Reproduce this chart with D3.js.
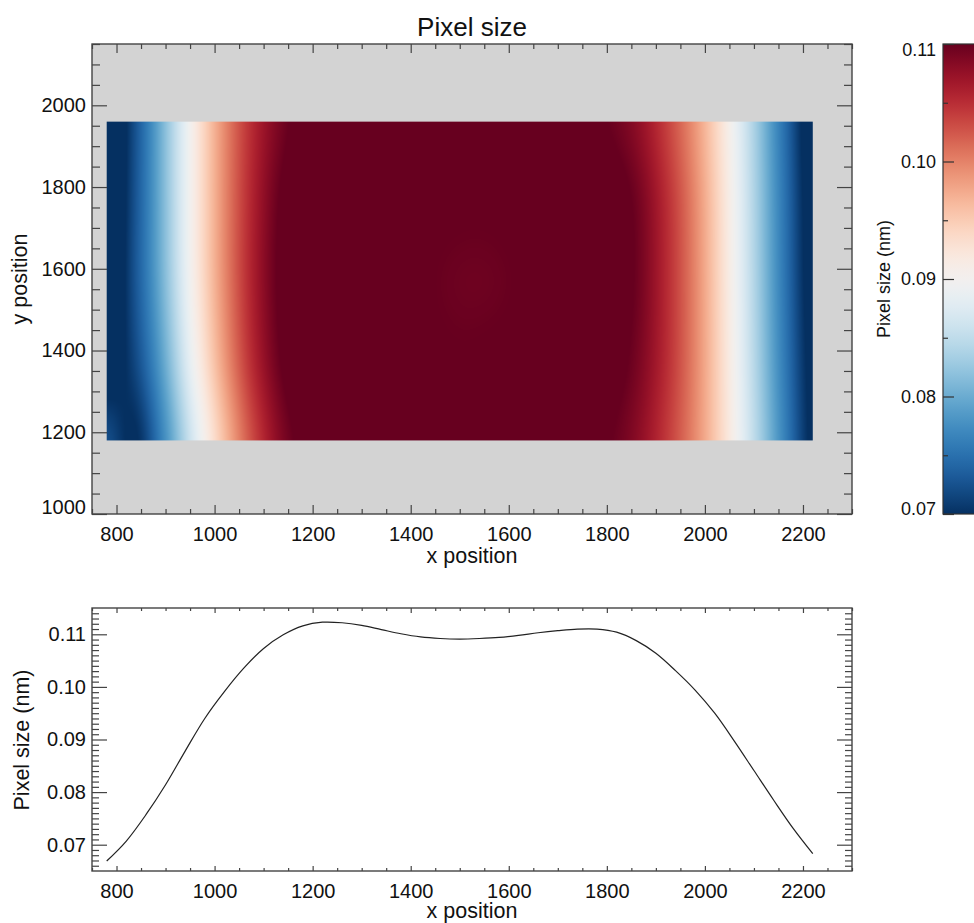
<!DOCTYPE html>
<html>
<head>
<meta charset="utf-8">
<script src="https://cdn.jsdelivr.net/npm/d3@7"></script>
<style>
  html, body { margin: 0; padding: 0; background: #fff; }
  svg { display: block; }
  text { font-family: "Liberation Sans", Arial, Helvetica, sans-serif; fill: #111; }
</style>
</head>
<body>
<svg id="chart" width="974" height="923"></svg>
<script>
// ---- Pixel-size map: grid nodes (x position columns, y position rows) ----
const gridX = [780, 840, 900, 960, 1020, 1080, 1140, 1200, 1260, 1320, 1380, 1440, 1500,
               1560, 1620, 1680, 1740, 1800, 1860, 1920, 1980, 2040, 2100, 2160, 2220];
const gridY = [1960, 1765, 1570, 1375, 1180];

// pixel size (nm) along each row of the map
const row1960 = [0.0655, 0.0727, 0.0818, 0.0915, 0.0995, 0.1055, 0.1094, 0.1115, 0.1118, 0.1112, 0.1106, 0.1104, 0.1103,
                 0.1103, 0.1104, 0.1106, 0.1108, 0.1100, 0.1080, 0.1040, 0.0988, 0.0919, 0.0837, 0.0752, 0.0675];
const row1765 = [0.0658, 0.0729, 0.0818, 0.0915, 0.0996, 0.1060, 0.1105, 0.1126, 0.1127, 0.1120, 0.1110, 0.1104, 0.1102,
                 0.1102, 0.1104, 0.1109, 0.1114, 0.1114, 0.1095, 0.1052, 0.0996, 0.0924, 0.0840, 0.0756, 0.0680];
const row1570 = [0.0662, 0.0730, 0.0816, 0.0913, 0.0995, 0.1062, 0.1108, 0.1130, 0.1130, 0.1122, 0.1110, 0.1101, 0.1097,
                 0.1097, 0.1101, 0.1108, 0.1116, 0.1116, 0.1097, 0.1054, 0.0998, 0.0926, 0.0842, 0.0758, 0.0683];
const row1375 = [0.0678, 0.0720, 0.0802, 0.0900, 0.0985, 0.1055, 0.1103, 0.1126, 0.1126, 0.1118, 0.1108, 0.1103, 0.1101,
                 0.1102, 0.1104, 0.1108, 0.1113, 0.1112, 0.1092, 0.1052, 0.0998, 0.0928, 0.0845, 0.0762, 0.0688];
const row1180 = [0.0722, 0.0698, 0.0778, 0.0875, 0.0962, 0.1035, 0.1088, 0.1112, 0.1115, 0.1110, 0.1106, 0.1104, 0.1104,
                 0.1104, 0.1105, 0.1106, 0.1107, 0.1102, 0.1082, 0.1044, 0.0995, 0.0930, 0.0850, 0.0768, 0.0692];

// ---- Pixel-size profile along x ----
const profileX = [780, 820, 860, 900, 940, 980, 1020, 1060, 1100, 1140, 1180, 1220, 1260, 1300, 1340, 1380, 1420, 1460, 1500,
                  1540, 1580, 1620, 1660, 1700, 1740, 1780, 1820, 1860, 1900, 1940, 1980, 2020, 2060, 2100, 2140, 2180, 2220];
const profileNm = [0.0669, 0.0707, 0.0757, 0.0814, 0.0878, 0.0940, 0.0991, 0.1036, 0.1073, 0.1099, 0.1116, 0.1123, 0.1122,
                   0.1117, 0.1109, 0.1101, 0.1095, 0.1092, 0.1091, 0.1092, 0.1094, 0.1098, 0.1103, 0.1107, 0.1110, 0.1110,
                   0.1104, 0.1088, 0.1064, 0.1031, 0.0994, 0.0950, 0.0897, 0.0841, 0.0785, 0.0731, 0.0683];

// ---- Tick labels ----
const xTickValues = [800, 1000, 1200, 1400, 1600, 1800, 2000, 2200];
const yTickValues = [1000, 1200, 1400, 1600, 1800, 2000];
const nmTickValues = [0.07, 0.08, 0.09, 0.10, 0.11];
const cbTickValues = [0.07, 0.08, 0.09, 0.10, 0.11];

const svg = d3.select("#chart");
const tickColor = "#444";

// scales
const xTop = d3.scaleLinear().domain([750, 2300]).range([92, 852]);
const yTop = d3.scaleLinear().domain([1000, 2150]).range([514, 44]);
const xBot = d3.scaleLinear().domain([750, 2300]).range([92, 852]);
const yBot = d3.scaleLinear().domain([0.065, 0.115]).range([871, 608]);
const cbY  = d3.scaleLinear().domain([0.07, 0.11]).range([514, 44]);
const color = d3.scaleSequential(t => d3.interpolateRdBu(1 - t)).domain([0.07, 0.11]).clamp(true);

function styleAxis(g, size) {
  g.attr("font-family", null).attr("font-size", null);
  g.select(".domain").remove();
  g.selectAll("line").attr("stroke", tickColor).attr("stroke-width", 1.2);
  g.selectAll("text").style("font-size", size + "px").attr("fill", "#111");
  return g;
}

// ================= Upper panel: map =================
const mapPanel = svg.append("g");
mapPanel.append("rect").attr("x", 92).attr("y", 44).attr("width", 760).attr("height", 470).attr("fill", "#d3d3d3");

// Catmull-Rom interpolation over a row/column of nodes
function cr(arr, f) {
  const n = arr.length;
  let i = Math.floor(f);
  if (i > n - 2) i = n - 2;
  if (i < 0) i = 0;
  const t = f - i;
  const p0 = arr[Math.max(i - 1, 0)], p1 = arr[i], p2 = arr[i + 1], p3 = arr[Math.min(i + 2, n - 1)];
  return 0.5 * (2 * p1 + (-p0 + p2) * t + (2 * p0 - 5 * p1 + 4 * p2 - p3) * t * t + (-p0 + 3 * p1 - 3 * p2 + p3) * t * t * t);
}

const rows = [row1960, row1765, row1570, row1375, row1180];
const colIndex = d3.scaleLinear().domain(gridX).range(d3.range(gridX.length)).clamp(true);
const rowIndex = d3.scaleLinear().domain(gridY).range(d3.range(gridY.length)).clamp(true);

const hx0 = xTop(gridX[0]), hx1 = xTop(gridX[gridX.length - 1]);
const hy0 = yTop(gridY[0]), hy1 = yTop(gridY[gridY.length - 1]);
const cw = Math.round(hx1 - hx0), ch = Math.round(hy1 - hy0);

// colour lookup table from the colour scale
const lutN = 1024;
const lut = d3.range(lutN).map(k => d3.rgb(color(0.07 + (k / (lutN - 1)) * 0.04)));

const canvas = document.createElement("canvas");
canvas.width = cw; canvas.height = ch;
const ctx = canvas.getContext("2d");
const img = ctx.createImageData(cw, ch);
for (let i = 0; i < cw; i++) {
  const xv = xTop.invert(hx0 + (i + 0.5) * (hx1 - hx0) / cw);
  const fc = colIndex(xv);
  const colVals = rows.map(r => cr(r, fc));
  for (let j = 0; j < ch; j++) {
    const yv = yTop.invert(hy0 + (j + 0.5) * (hy1 - hy0) / ch);
    const v = cr(colVals, rowIndex(yv));
    let k = Math.round(((v - 0.07) / 0.04) * (lutN - 1));
    k = Math.max(0, Math.min(lutN - 1, k));
    const c = lut[k];
    const p = (j * cw + i) * 4;
    img.data[p] = c.r; img.data[p + 1] = c.g; img.data[p + 2] = c.b; img.data[p + 3] = 255;
  }
}
ctx.putImageData(img, 0, 0);
mapPanel.append("image")
  .attr("x", hx0).attr("y", hy0)
  .attr("width", hx1 - hx0).attr("height", hy1 - hy0)
  .attr("preserveAspectRatio", "none")
  .attr("href", canvas.toDataURL());

const xMinor = d3.range(750, 2301, 50).filter(v => !xTickValues.includes(v));
const yMinorTop = d3.range(1000, 2151, 50).filter(v => !yTickValues.includes(v));

styleAxis(mapPanel.append("g").attr("transform", "translate(0,514)")
  .call(d3.axisBottom(xTop).tickValues(xTickValues).tickSizeInner(-9).tickSizeOuter(0).tickPadding(13).tickFormat(d3.format("d"))), 20);
styleAxis(mapPanel.append("g").attr("transform", "translate(0,514)")
  .call(d3.axisBottom(xTop).tickValues(xMinor).tickSizeInner(-5).tickSizeOuter(0).tickFormat("")), 20);
styleAxis(mapPanel.append("g").attr("transform", "translate(0,44)")
  .call(d3.axisTop(xTop).tickValues(xTickValues).tickSizeInner(-9).tickSizeOuter(0).tickFormat("")), 20);
styleAxis(mapPanel.append("g").attr("transform", "translate(0,44)")
  .call(d3.axisTop(xTop).tickValues(xMinor).tickSizeInner(-5).tickSizeOuter(0).tickFormat("")), 20);
const yTopAxis = styleAxis(mapPanel.append("g").attr("transform", "translate(92,0)")
  .call(d3.axisLeft(yTop).tickValues(yTickValues).tickSizeInner(-15).tickSizeOuter(0).tickPadding(6).tickFormat(d3.format("d"))), 20);
yTopAxis.selectAll(".tick").filter(d => d === 1000).select("text").attr("transform", "translate(0,-7)");
styleAxis(mapPanel.append("g").attr("transform", "translate(92,0)")
  .call(d3.axisLeft(yTop).tickValues(yMinorTop).tickSizeInner(-8).tickSizeOuter(0).tickFormat("")), 20);
styleAxis(mapPanel.append("g").attr("transform", "translate(852,0)")
  .call(d3.axisRight(yTop).tickValues(yTickValues).tickSizeInner(-15).tickSizeOuter(0).tickFormat("")), 20);
styleAxis(mapPanel.append("g").attr("transform", "translate(852,0)")
  .call(d3.axisRight(yTop).tickValues(yMinorTop).tickSizeInner(-8).tickSizeOuter(0).tickFormat("")), 20);

mapPanel.append("rect").attr("x", 92).attr("y", 44).attr("width", 760).attr("height", 470)
  .attr("fill", "none").attr("stroke", tickColor).attr("stroke-width", 1.4);

svg.append("text").attr("x", 472).attr("y", 36).attr("text-anchor", "middle")
  .style("font-size", "26px").text("Pixel size");
svg.append("text").attr("x", 472).attr("y", 563).attr("text-anchor", "middle")
  .style("font-size", "21.5px").text("x position");
svg.append("text").attr("transform", "translate(27,279) rotate(-90)").attr("text-anchor", "middle")
  .style("font-size", "21.5px").text("y position");

// ================= Colour bar =================
const cb = svg.append("g");
const defs = svg.append("defs");
const grad = defs.append("linearGradient").attr("id", "cbGrad")
  .attr("x1", 0).attr("y1", 1).attr("x2", 0).attr("y2", 0);
d3.range(0, 1.0001, 0.02).forEach(t => {
  grad.append("stop").attr("offset", t).attr("stop-color", color(0.07 + t * 0.04));
});
cb.append("rect").attr("x", 943).attr("y", cbY(0.11)).attr("width", 60).attr("height", cbY(0.07) - cbY(0.11))
  .attr("fill", "url(#cbGrad)").attr("stroke", "#333").attr("stroke-width", 1.2);
const cbAxis = styleAxis(cb.append("g").attr("transform", "translate(943,0)")
  .call(d3.axisLeft(cbY).tickValues(cbTickValues).tickSizeInner(-11).tickSizeOuter(0).tickPadding(7).tickFormat(d3.format(".2f"))), 18);
cbAxis.selectAll("line").attr("stroke", "#333");
cbAxis.selectAll(".tick").filter(d => Math.abs(d - 0.11) < 1e-9).select("text").attr("transform", "translate(0,6)");
cbAxis.selectAll(".tick").filter(d => Math.abs(d - 0.07) < 1e-9).select("text").attr("transform", "translate(0,-5)");
const cbMinor = styleAxis(cb.append("g").attr("transform", "translate(943,0)")
  .call(d3.axisLeft(cbY).tickValues([0.075, 0.085, 0.095, 0.105]).tickSizeInner(-5).tickSizeOuter(0).tickFormat("")), 18);
cbMinor.selectAll("line").attr("stroke", "#333");
svg.append("text").attr("transform", "translate(890,279) rotate(-90)").attr("text-anchor", "middle")
  .style("font-size", "18px").text("Pixel size (nm)");

// ================= Lower panel: profile =================
const profPanel = svg.append("g");
const yMinorBot = d3.range(66, 115).map(v => v / 1000).filter(v => !nmTickValues.some(t => Math.abs(t - v) < 1e-9));

styleAxis(profPanel.append("g").attr("transform", "translate(0,871)")
  .call(d3.axisBottom(xBot).tickValues(xTickValues).tickSizeInner(-5).tickSizeOuter(0).tickPadding(13).tickFormat(d3.format("d"))), 20);
styleAxis(profPanel.append("g").attr("transform", "translate(0,871)")
  .call(d3.axisBottom(xBot).tickValues(xMinor).tickSizeInner(-3).tickSizeOuter(0).tickFormat("")), 20);
styleAxis(profPanel.append("g").attr("transform", "translate(0,608)")
  .call(d3.axisTop(xBot).tickValues(xTickValues).tickSizeInner(-5).tickSizeOuter(0).tickFormat("")), 20);
styleAxis(profPanel.append("g").attr("transform", "translate(0,608)")
  .call(d3.axisTop(xBot).tickValues(xMinor).tickSizeInner(-3).tickSizeOuter(0).tickFormat("")), 20);
styleAxis(profPanel.append("g").attr("transform", "translate(92,0)")
  .call(d3.axisLeft(yBot).tickValues(nmTickValues).tickSizeInner(-15).tickSizeOuter(0).tickPadding(6).tickFormat(d3.format(".2f"))), 20);
styleAxis(profPanel.append("g").attr("transform", "translate(92,0)")
  .call(d3.axisLeft(yBot).tickValues(yMinorBot).tickSizeInner(-7).tickSizeOuter(0).tickFormat("")), 20);
styleAxis(profPanel.append("g").attr("transform", "translate(852,0)")
  .call(d3.axisRight(yBot).tickValues(nmTickValues).tickSizeInner(-15).tickSizeOuter(0).tickFormat("")), 20);
styleAxis(profPanel.append("g").attr("transform", "translate(852,0)")
  .call(d3.axisRight(yBot).tickValues(yMinorBot).tickSizeInner(-7).tickSizeOuter(0).tickFormat("")), 20);

const profile = profileX.map((x, i) => [x, profileNm[i]]);
profPanel.append("path").datum(profile)
  .attr("fill", "none").attr("stroke", "#222").attr("stroke-width", 1.2)
  .attr("d", d3.line().x(d => xBot(d[0])).y(d => yBot(d[1])).curve(d3.curveCatmullRom));

profPanel.append("rect").attr("x", 92).attr("y", 608).attr("width", 760).attr("height", 263)
  .attr("fill", "none").attr("stroke", tickColor).attr("stroke-width", 1.4);

svg.append("text").attr("x", 472).attr("y", 918).attr("text-anchor", "middle")
  .style("font-size", "21.5px").text("x position");
svg.append("text").attr("transform", "translate(29,740) rotate(-90)").attr("text-anchor", "middle")
  .style("font-size", "21.5px").text("Pixel size (nm)");
</script>
</body>
</html>
